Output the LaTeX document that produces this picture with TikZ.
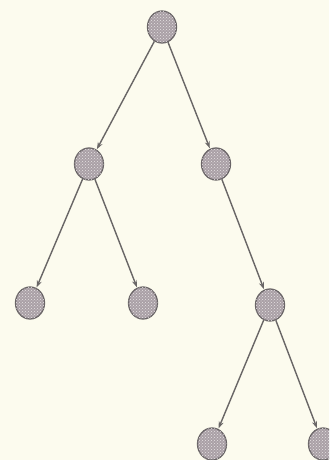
\documentclass[tikz,border=0pt]{standalone}
\usetikzlibrary{shapes.geometric,arrows.meta,patterns}
\definecolor{bg}{RGB}{252,251,238}
\definecolor{nodefill}{RGB}{170,160,166}
\definecolor{nodeline}{RGB}{105,100,102}
\definecolor{edgecol}{RGB}{105,102,102}
\begin{document}
\begin{tikzpicture}[x=1pt,y=-1pt,
  tnode/.style={ellipse,draw=nodeline,line width=1.3pt,fill=nodefill,
    minimum width=29pt,minimum height=32pt,inner sep=0pt,
    postaction={pattern=crosshatch dots,pattern color=white!70!nodefill}},
  edge/.style={draw=edgecol,line width=1.4pt,-{Stealth[length=7pt,width=5pt]},shorten >=0.5pt}]
\fill[bg] (0,0) rectangle (329,460);
\clip (0,0) rectangle (329,460);
\node[tnode] (r) at (162,27) {};
\node[tnode] (a) at (89,164) {};
\node[tnode] (b) at (216,164) {};
\node[tnode] (aa) at (30,303) {};
\node[tnode] (ab) at (143,303) {};
\node[tnode] (bb) at (270,305) {};
\node[tnode] (bba) at (212,444) {};
\node[tnode] (bbb) at (323,444) {};
\draw[edge] (r) -- (a);
\draw[edge] (r) -- (b);
\draw[edge] (a) -- (aa);
\draw[edge] (a) -- (ab);
\draw[edge] (b) -- (bb);
\draw[edge] (bb) -- (bba);
\draw[edge] (bb) -- (bbb);
\end{tikzpicture}
\end{document}
